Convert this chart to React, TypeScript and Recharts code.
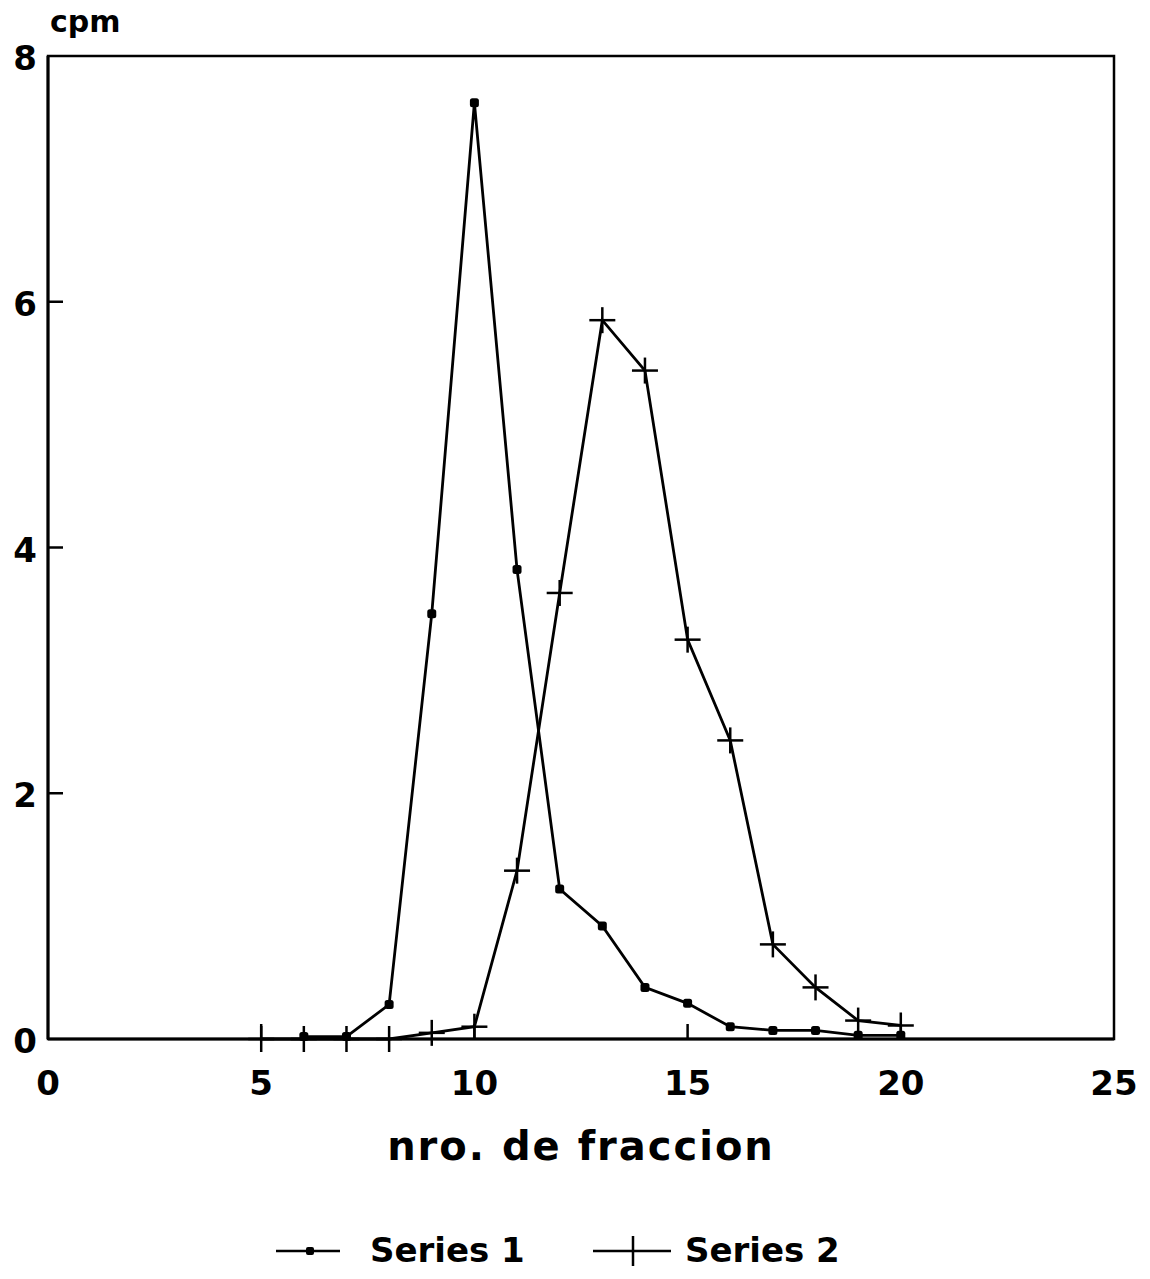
import React from 'react';
import { LineChart, Line, XAxis, YAxis, ReferenceArea } from 'recharts';

const fractions = [5, 6, 7, 8, 9, 10, 11, 12, 13, 14, 15, 16, 17, 18, 19, 20];
const series1 = [null, 0.02, 0.02, 0.28, 3.46, 7.62, 3.82, 1.22, 0.92, 0.42, 0.29, 0.1, 0.07, 0.07, 0.03, 0.03];
const series2 = [0, 0, 0, 0, 0.05, 0.1, 1.37, 3.63, 5.85, 5.44, 3.25, 2.43, 0.77, 0.42, 0.15, 0.11];
const xTicks = [0, 5, 10, 15, 20, 25];
const yTicks = [0, 2, 4, 6, 8];

const data = fractions.map((f, i) => ({ x: f, s1: series1[i], s2: series2[i] }));

const FONT = '"DejaVu Sans", "Liberation Sans", Arial, sans-serif';

const XTick = (props: any) => {
  const { x, y, payload } = props;
  const v = payload.value;
  return (
    <g>
      {v !== 0 && v !== 25 && <line x1={x} y1={y} x2={x} y2={y - 15} stroke="#000" strokeWidth={2.5} />}
      <text x={x} y={y + 44} textAnchor="middle" dominantBaseline="central" fontFamily={FONT} fontWeight="bold" fontSize={34} fill="#000">
        {v}
      </text>
    </g>
  );
};

const YTick = (props: any) => {
  const { x, y, payload } = props;
  const v = payload.value;
  return (
    <g>
      {v !== 0 && v !== 8 && <line x1={x} y1={y} x2={x + 15} y2={y} stroke="#000" strokeWidth={2.5} />}
      <text x={x - 11} y={y + 2} textAnchor="end" dominantBaseline="central" fontFamily={FONT} fontWeight="bold" fontSize={34} fill="#000">
        {v}
      </text>
    </g>
  );
};

const DotMarker = (props: any) => {
  const { cx, cy, value } = props;
  if (cx == null || cy == null || value == null) return <g />;
  return <rect x={cx - 4.5} y={cy - 4.5} width={9} height={9} rx={2.5} fill="#000" />;
};

const CrossMarker = (props: any) => {
  const { cx, cy, value } = props;
  if (cx == null || cy == null || value == null) return <g />;
  return (
    <g>
      <line x1={cx - 13} y1={cy} x2={cx + 13} y2={cy} stroke="#000" strokeWidth={2.5} />
      <line x1={cx} y1={cy - 13} x2={cx} y2={cy + 13} stroke="#000" strokeWidth={2.5} />
    </g>
  );
};

const XTitle = (props: any) => {
  const { viewBox } = props;
  const cx = viewBox.x + viewBox.width / 2;
  return (
    <text x={cx} y={viewBox.y + 121} textAnchor="middle" fontFamily={FONT} fontWeight="bold" fontSize={40} letterSpacing={2} fill="#000">
      nro. de fraccion
    </text>
  );
};

export default function App() {
  return (
    <div style={{ position: 'relative', width: 1134, height: 1263, background: '#fff' }}>
      <LineChart width={1134} height={1263} data={data} margin={{ top: 48, right: 28, left: 0, bottom: 152 }}>
        <XAxis
          dataKey="x"
          type="number"
          domain={[0, 25]}
          ticks={xTicks}
          interval={0}
          tickSize={0}
          tickMargin={0}
          height={80}
          axisLine={{ stroke: '#000', strokeWidth: 3 }}
          tickLine={false}
          tick={<XTick />}
          label={<XTitle />}
        />
        <YAxis
          type="number"
          domain={[0, 8]}
          ticks={yTicks}
          interval={0}
          tickSize={0}
          tickMargin={0}
          width={40}
          axisLine={{ stroke: '#000', strokeWidth: 3 }}
          tickLine={false}
          tick={<YTick />}
        />
        <ReferenceArea x1={0} x2={25} y1={0} y2={8} fill="none" fillOpacity={0} stroke="#000" strokeWidth={2.5} />
        <Line dataKey="s1" stroke="#000" strokeWidth={2.8} dot={<DotMarker />} isAnimationActive={false} type="linear" />
        <Line dataKey="s2" stroke="#000" strokeWidth={2.8} dot={<CrossMarker />} isAnimationActive={false} type="linear" />
      </LineChart>
      <div style={{ position: 'absolute', left: 42, top: -4, fontFamily: FONT, fontWeight: 'bold', fontSize: 30, lineHeight: '36px' }}>cpm</div>
      <svg width={70} height={30} style={{ position: 'absolute', left: 268, top: 1228 }}>
        <line x1={0} y1={15} x2={64} y2={15} stroke="#000" strokeWidth={2.5} />
        <rect x={30} y={11} width={8} height={8} rx={2} fill="#000" />
      </svg>
      <div style={{ position: 'absolute', left: 362, top: 1222, fontFamily: FONT, fontWeight: 'bold', fontSize: 34, lineHeight: '40px' }}>Series 1</div>
      <svg width={80} height={36} style={{ position: 'absolute', left: 585, top: 1225 }}>
        <line x1={0} y1={18} x2={78} y2={18} stroke="#000" strokeWidth={2.5} />
        <line x1={40} y1={3} x2={40} y2={33} stroke="#000" strokeWidth={2.5} />
      </svg>
      <div style={{ position: 'absolute', left: 677, top: 1222, fontFamily: FONT, fontWeight: 'bold', fontSize: 34, lineHeight: '40px' }}>Series 2</div>
    </div>
  );
}
